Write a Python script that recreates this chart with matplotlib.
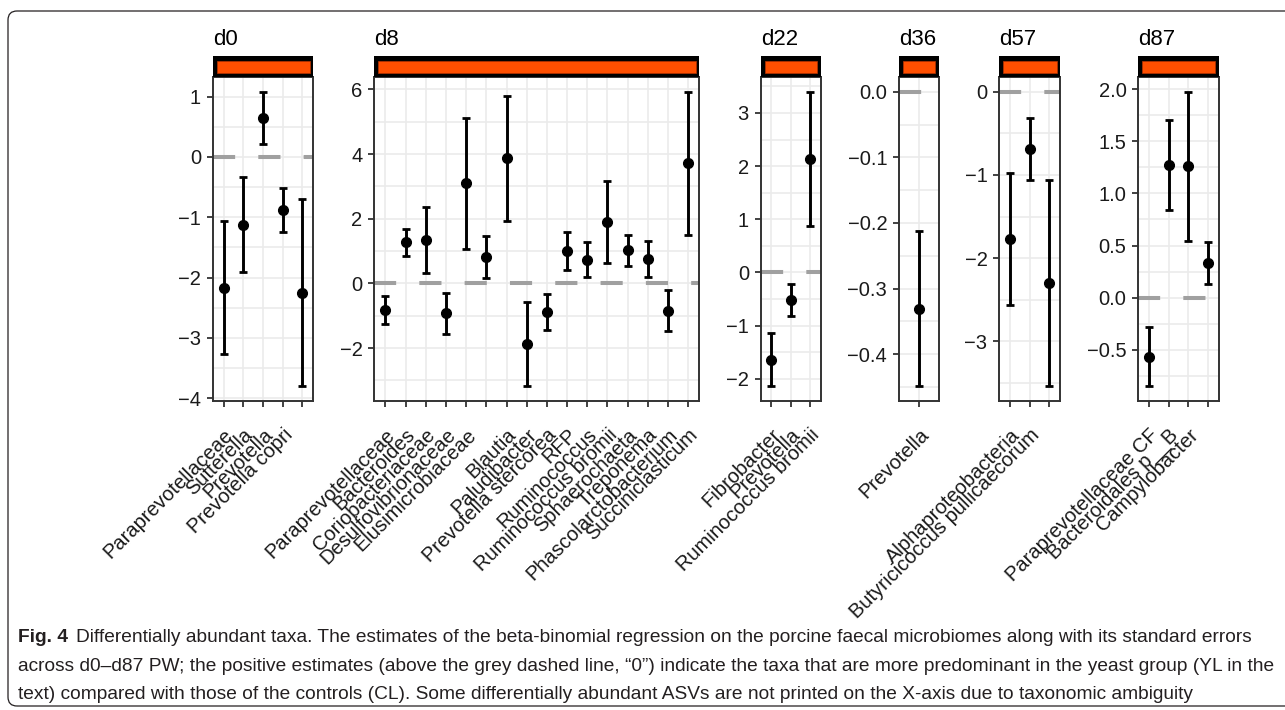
import matplotlib
matplotlib.use("Agg")
import matplotlib.pyplot as plt
import matplotlib.transforms as mtransforms
from matplotlib.patches import Rectangle, FancyBboxPatch
from matplotlib.ticker import MultipleLocator

plt.rcParams['font.family'] = ['Liberation Sans', 'DejaVu Sans']

# sampling days (facets)
days = ["d0", "d8", "d22", "d36", "d57", "d87"]

taxa_d0 = ["Paraprevotellaceae", "Sutterella", "Prevotella", "Prevotella copri", ""]
est_d0 = [-2.17, -1.12, 0.65, -0.88, -2.25]
se_d0 = [1.10, 0.78, 0.43, 0.37, 1.55]

taxa_d8 = ["Paraprevotellaceae", "Bacteroides", "Coriobacteriaceae", "Desulfovibrionaceae",
           "Elusimicrobiaceae", "", "Blautia", "Paludibacter", "Prevotella stercorea", "RFP",
           "Ruminococcus", "Ruminococcus bromii", "Sphaerochaeta", "Treponema",
           "Phascolarctobacterium", "Succiniclasticum"]
est_d8 = [-0.82, 1.27, 1.35, -0.92, 3.10, 0.82, 3.87, -1.87, -0.88, 1.00, 0.74, 1.89, 1.03, 0.76, -0.84, 3.72]
se_d8 = [0.43, 0.41, 1.03, 0.63, 2.03, 0.64, 1.93, 1.31, 0.55, 0.58, 0.54, 1.27, 0.48, 0.56, 0.64, 2.21]

taxa_d22 = ["Fibrobacter", "Prevotella", "Ruminococcus bromii"]
est_d22 = [-1.64, -0.52, 2.14]
se_d22 = [0.50, 0.30, 1.26]

taxa_d36 = ["Prevotella"]
est_d36 = [-0.331]
se_d36 = [0.118]

taxa_d57 = ["Alphaproteobacteria", "Butyricicoccus pullicaecorum", ""]
est_d57 = [-1.77, -0.69, -2.30]
se_d57 = [0.79, 0.37, 1.24]

taxa_d87 = ["Paraprevotellaceae CF", "Bacteroidales p__B", "Campylobacter", ""]
est_d87 = [-0.565, 1.27, 1.26, 0.331]
se_d87 = [0.285, 0.43, 0.715, 0.20]

caption_head = "Fig. 4"
caption_lines = [
    "Differentially abundant taxa. The estimates of the beta-binomial regression on the porcine faecal microbiomes along with its standard errors",
    "across d0\u2013d87 PW; the positive estimates (above the grey dashed line, \u201c0\u201d) indicate the taxa that are more predominant in the yeast group (YL in the",
    "text) compared with those of the controls (CL). Some differentially abundant ASVs are not printed on the X-axis due to taxonomic ambiguity",
]

W, H = 1285, 710
fig = plt.figure(figsize=(W / 100, H / 100), dpi=100)

# panel layout in pixels (left, right), shared top/bottom
panel_x = [(212.7, 313.3), (374.3, 699.3), (760.7, 820.7), (899, 938.7), (999.3, 1060), (1138.3, 1218.7)]
ytop, ybot = 77, 401
major_step = [1, 2, 1, 0.1, 1, 0.5]

data = [(taxa_d0, est_d0, se_d0), (taxa_d8, est_d8, se_d8), (taxa_d22, est_d22, se_d22),
        (taxa_d36, est_d36, se_d36), (taxa_d57, est_d57, se_d57), (taxa_d87, est_d87, se_d87)]

for day, (x0, x1), step, (taxa, est, se) in zip(days, panel_x, major_step, data):
    ax = fig.add_axes([x0 / W, 1 - ybot / H, (x1 - x0) / W, (ybot - ytop) / H])
    n = len(taxa)
    xs = list(range(n))
    lo = min(min(e - s for e, s in zip(est, se)), 0)
    hi = max(max(e + s for e, s in zip(est, se)), 0)
    pad = (hi - lo) * 0.05
    ax.set_ylim(lo - pad, hi + pad)
    if n > 1:
        ax.set_xlim(-0.55, n - 0.45)
    else:
        ax.set_xlim(-1, 1)

    ax.axhline(0, color='#A0A0A0', lw=2.9, ls=(0, (5.5, 5.75)), dash_capstyle='butt', zorder=1.5)
    ax.errorbar(xs, est, yerr=se, fmt='o', color='black', ms=7, elinewidth=2.1,
                capsize=2.6, capthick=2.0, zorder=3)

    ax.yaxis.set_major_locator(MultipleLocator(step))
    ax.yaxis.set_minor_locator(MultipleLocator(step / 2))
    ax.set_xticks(xs)
    ax.set_xticklabels(taxa, rotation=45, ha='right', va='top', rotation_mode='anchor',
                       fontsize=14.5, color='black')
    ax.grid(which='major', color='#EBEBEB', lw=1.2)
    ax.grid(which='minor', axis='y', color='#EBEBEB', lw=1.2)
    ax.set_axisbelow(True)
    ax.tick_params(axis='both', which='major', length=4.5, width=1.3, color='#333333',
                   labelsize=14.5, labelcolor='#1A1A1A')
    ax.tick_params(axis='x', pad=13, labelsize=14.5)
    ax.tick_params(axis='y', pad=4)
    ax.tick_params(which='minor', length=0)
    for sp in ax.spines.values():
        sp.set_color('#333333')
        sp.set_linewidth(1.4)

    # facet strip: black frame with orange fill
    fig.add_artist(Rectangle((x0 / W, 1 - ytop / H), (x1 - x0) / W, 21 / H,
                             transform=fig.transFigure, facecolor='black', edgecolor='none'))
    fig.add_artist(Rectangle(((x0 + 4) / W, 1 - (ytop - 4.3) / H), (x1 - x0 - 7.5) / W, 12 / H,
                             transform=fig.transFigure, facecolor='#FF4F00', edgecolor='#B83300', lw=0.5))
    fig.text(x0 / W, 1 - 45 / H, day, ha='left', va='baseline', fontsize=16, color='black')

# rounded frame around figure and caption
fig.add_artist(FancyBboxPatch((8, 4), 1300, 695, boxstyle='round,pad=0,rounding_size=9',
                              transform=mtransforms.IdentityTransform(), fill=False,
                              ec='#231F20', lw=0.9))

# caption sized to the width of its longest line
renderer = fig.canvas.get_renderer()
probe = fig.text(0, 0, caption_lines[1], fontsize=12)
cap_fs = 12 * 1259 / probe.get_window_extent(renderer).width
probe.remove()

head = fig.text(18 / W, 1 - 642 / H, caption_head, fontsize=cap_fs, fontweight='bold',
                color='#231F20', ha='left', va='baseline')
hw = head.get_window_extent(renderer).width
fig.text((18 + hw + 8) / W, 1 - 642 / H, caption_lines[0], fontsize=cap_fs,
         color='#231F20', ha='left', va='baseline')
fig.text(18 / W, 1 - 671 / H, caption_lines[1], fontsize=cap_fs, color='#231F20', ha='left', va='baseline')
fig.text(18 / W, 1 - 699 / H, caption_lines[2], fontsize=cap_fs, color='#231F20', ha='left', va='baseline')

fig.savefig("out.png", dpi=100)
